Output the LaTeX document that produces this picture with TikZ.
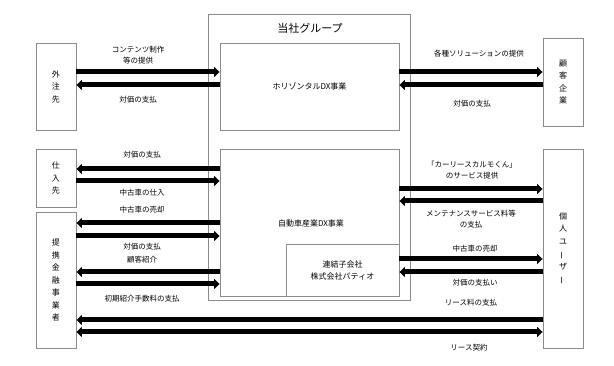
\documentclass[tikz,border=0pt]{standalone}
\usepackage{fontspec}
\setmainfont{Noto Sans CJK JP}
\usepackage{graphicx}
\usetikzlibrary{arrows.meta}
\newcommand{\vbar}{\rotatebox[origin=c]{90}{ー}}
\begin{document}
\begin{tikzpicture}[x=1pt,y=-1pt,
  box/.style={draw=black!45, line width=0.9pt, fill=white, minimum width=#1, inner sep=0pt},
  vtxt/.style={font=\fontsize{8}{12.5}\selectfont, align=center},
  lbl/.style={font=\fontsize{7.5}{11}\selectfont, align=center, inner sep=0pt},
  arr/.style={line width=5pt, -{Triangle[width=10pt,length=5.5pt]}},
  arrl/.style={line width=5pt, {Triangle[width=10pt,length=5.5pt]}-},
  arrb/.style={line width=5pt, {Triangle[width=10pt,length=5.5pt]}-{Triangle[width=10pt,length=5.5pt]}}]
\useasboundingbox[fill=white] (0,0) rectangle (614,366);

% outer group box
\node[box=202pt, minimum height=286pt] (group) at (309,157) {};
\node[font=\fontsize{11}{13}\selectfont] (gtitle) at (310,28) {当社グループ};
\node[box=179pt, minimum height=87pt, font=\fontsize{8}{10}\selectfont] (horiz) at (309.5,86.5) {ホリゾンタルDX事業};
\node[box=179pt, minimum height=147pt] (jido) at (309.5,222.5) {};
\node[font=\fontsize{8}{10}\selectfont] (jidotxt) at (311,223) {自動車産業DX事業};
\node[box=113pt, minimum height=52pt, font=\fontsize{8}{12}\selectfont, align=center] (ren) at (342.5,270) {連結子会社\\株式会社パティオ};

% side boxes
\node[box=40pt, minimum height=87pt, vtxt] (gai) at (56,86.5) {外\\注\\先};
\node[box=40pt, minimum height=88pt, vtxt] (kok) at (563,82) {顧\\客\\企\\業};
\node[box=40pt, minimum height=58pt, vtxt] (shi) at (56,178) {仕\\入\\先};
\node[box=40pt, minimum height=136pt, vtxt] (tei) at (56,280) {提\\携\\金\\融\\事\\業\\者};
\node[box=40pt, minimum height=199pt, vtxt] (koj) at (563,248.5) {個\\人\\ユ\\\vbar\\ザ\\\vbar};

% top left
\draw[arr] (gai.east |- 0,72) -- (horiz.west |- 0,72);
\draw[arrl] (gai.east |- 0,85) -- (horiz.west |- 0,85);
\node[lbl] (l1) at (138,55.5) {コンテンツ制作\\等の提供};
\node[lbl] (l2) at (138,100) {対価の支払};

% top right
\draw[arr] (horiz.east |- 0,72) -- (kok.west |- 0,72);
\draw[arrl] (horiz.east |- 0,85) -- (kok.west |- 0,85);
\node[lbl] (r1) at (479,54) {各種ソリューションの提供};
\node[lbl] (r2) at (472,104) {対価の支払};

% shiire
\draw[arrl] (shi.east |- 0,169) -- (jido.west |- 0,169);
\draw[arr] (shi.east |- 0,181) -- (jido.west |- 0,181);
\node[lbl] (l3) at (142,155) {対価の支払};
\node[lbl] (l4) at (142,193) {中古車の仕入};

% teikei
\node[lbl] (l5) at (142,210) {中古車の売却};
\draw[arrl] (tei.east |- 0,223) -- (jido.west |- 0,223);
\draw[arr] (tei.east |- 0,236) -- (jido.west |- 0,236);
\node[lbl] (l6) at (142,247) {対価の支払};
\node[lbl] (l7) at (142,260) {顧客紹介};
\draw[arrl] (tei.east |- 0,272) -- (jido.west |- 0,272);
\draw[arr] (tei.east |- 0,284) -- (jido.west |- 0,284);
\node[lbl] (l8) at (142,299) {初期紹介手数料の支払};

% right kojin
\node[lbl] (r3) at (472,170.5) {「カーリースカルモくん」\\のサービス提供};
\draw[arr] (jido.east |- 0,189) -- (koj.west |- 0,189);
\draw[arrl] (jido.east |- 0,201) -- (koj.west |- 0,201);
\node[lbl] (r4) at (471,219) {メンテナンスサービス料等\\の支払};
\node[lbl] (r5) at (475,249) {中古車の売却};
\draw[arr] (ren.east |- 0,259) -- (koj.west |- 0,259);
\draw[arrl] (ren.east |- 0,272) -- (koj.west |- 0,272);
\node[lbl] (r6) at (475,283) {対価の支払い};

% bottom
\node[lbl] (r7) at (471,303) {リース料の支払};
\draw[arrl] (tei.east |- 0,320) -- (koj.west |- 0,320);
\draw[arrb] (tei.east |- 0,332) -- (koj.west |- 0,332);
\node[lbl] (r8) at (469,348) {リース契約};
\end{tikzpicture}
\end{document}
